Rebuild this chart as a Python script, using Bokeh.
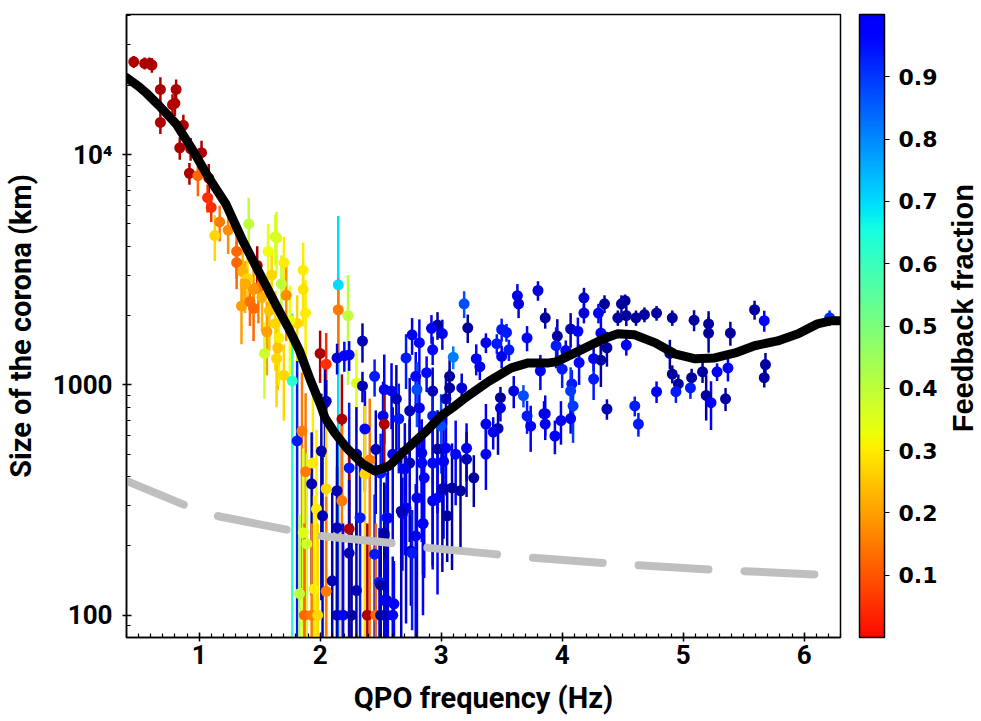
import numpy as np
from bokeh.plotting import figure
from bokeh.layouts import row
from bokeh.models import (ColumnDataSource, LinearColorMapper, ColorBar, FixedTicker,
                          Range1d, PrintfTickFormatter)
from bokeh.core.properties import value
from bokeh.transform import transform
from bokeh.embed import file_html
from bokeh.resources import INLINE

# ---------------- data ----------------
qpo_hz = [
    0.46, 0.55, 0.59, 0.61, 0.68, 0.81, 0.80, 0.78, 0.68, 0.87, 0.84, 0.93,
    1.02, 0.92, 0.99, 1.08, 1.07, 1.10, 1.17, 1.13, 1.41, 1.63,
    1.24, 1.31, 1.31, 1.36, 1.48, 1.40, 1.64, 1.57, 1.49, 1.35, 1.42, 1.45,
    1.60, 1.68, 1.70, 1.72, 1.86, 1.86, 1.88, 1.56, 1.63, 1.81, 1.54, 1.64,
    1.65, 1.70, 1.77, 1.52, 1.58, 1.66, 1.75, 1.45, 1.38,
    2.15, 2.15, 2.23, 2.35, 2.14, 2.20, 2.24, 2.00, 2.05, 2.30, 2.35, 2.45, 2.05,
    2.04, 2.18, 1.85, 1.81, 2.37, 2.30, 2.46, 2.41, 2.24, 2.50, 2.37, 2.01,
    1.94, 1.88, 1.93, 2.05, 2.14, 2.18, 1.97, 2.02, 2.33, 2.55, 2.68, 2.85,
    1.86, 2.24, 2.14, 2.53, 1.89, 2.24, 2.45, 2.75, 2.10, 2.49, 1.95, 2.05,
    1.83, 2.30, 2.55, 2.61, 1.87, 1.93, 1.98, 2.14, 2.19, 2.26, 2.39, 2.46,
    2.50, 2.55, 2.60,
    3.19, 3.22, 2.97, 2.92, 3.01, 2.76, 2.82, 2.93, 2.71, 3.10, 3.29, 3.32,
    3.37, 3.46, 3.50, 3.54, 3.50, 3.56, 3.71, 3.63, 3.64, 3.80, 3.86, 2.88,
    2.79, 3.07, 3.07, 3.17, 2.93, 3.04, 2.80, 2.82, 2.74, 2.93, 3.00, 3.49,
    3.49, 3.60, 3.68, 3.37, 3.47, 3.43, 3.71, 3.74, 3.85, 3.86, 2.52, 2.63,
    2.59, 2.53, 2.65, 2.53, 2.84, 2.97, 3.04, 3.12, 3.21, 3.21, 3.37, 2.60,
    2.74, 2.84, 2.93, 3.02, 2.70, 2.86, 3.27, 3.01, 3.09, 3.16, 2.93, 2.97,
    2.80, 2.71, 2.67, 3.05, 2.85, 2.56, 2.79, 2.53, 2.76, 2.50, 2.53,
    4.18, 4.18, 4.30, 4.35, 4.49, 4.52, 4.46, 4.53, 4.61, 4.68, 4.78, 4.91,
    5.09, 5.21, 5.21, 5.39, 5.59, 5.67, 6.21, 3.96, 4.07, 4.13, 4.32, 4.37,
    3.95, 4.03, 4.53, 4.26, 4.14, 4.32, 3.82, 4.00, 4.26, 4.08, 4.07, 4.09,
    3.86, 3.99, 4.07, 4.37, 4.60, 4.63, 3.94, 4.89, 4.91, 4.96, 5.07, 4.94,
    5.06, 4.78, 5.16, 5.28, 5.37, 5.19, 5.23, 5.35, 5.68, 5.67,
]
corona_km = [
    25300, 24900, 24900, 24500, 19200, 19200, 16700, 16500, 13800, 13400, 10700, 10600,
    10200, 8300, 8100, 7900, 6500, 5900, 5100, 4450, 5000, 4400,
    4700, 3800, 3400, 3100, 3300, 2900, 4350, 3800, 2650, 2200, 2300, 2150,
    3000, 2750, 3400, 2450, 3150, 2600, 2050, 1700, 1850, 1850, 1370, 1300,
    1450, 1100, 1040, 2400, 2100, 1600, 1900, 2600, 2750,
    2720, 2120, 2000, 1550, 1310, 1340, 1350, 1370, 1230, 1020, 990, 1090, 850,
    836, 711, 631, 571, 644, 501, 525, 472, 436, 414, 410, 516,
    458, 420, 372, 354, 347, 314, 289, 270, 265, 265, 276, 250,
    228, 237, 240, 227, 204, 186, 184, 190, 141, 139, 130, 127,
    124, 128, 116, 112, 100, 100, 100, 100, 100, 100, 100, 100,
    100, 100, 100,
    2250, 1770, 1820, 1760, 1670, 1650, 1525, 1420, 1310, 1320, 1300, 1200,
    1525, 1510, 1740, 1690, 1330, 1420, 1600, 2440, 2250, 2570, 1955, 1130,
    1090, 1090, 970, 970, 940, 870, 955, 794, 772, 733, 662, 880,
    794, 942, 898, 676, 647, 624, 733, 662, 750, 676, 733, 869,
    942, 955, 713, 676, 506, 527, 531, 500, 531, 476, 500, 500,
    458, 458, 458, 465, 432, 395, 395, 354, 357, 347, 314, 323,
    323, 292, 283, 270, 250, 264, 221, 221, 186, 135, 116,
    2390, 2050, 2050, 2250, 2250, 2320, 1955, 2000, 1955, 2020, 2050, 1955,
    1910, 1840, 1680, 1680, 2120, 1900, 1955, 1630, 1750, 1710, 1680, 1450,
    1480, 1410, 1490, 1300, 1250, 1280, 1150, 1170, 1060, 1010, 942, 810,
    750, 700, 714, 786, 810, 676, 600, 1370, 1115, 1010, 1075, 935,
    970, 935, 1140, 1140, 1185, 900, 837, 870, 1225, 1075,
]
corona_err_km = [
    1500, 1500, 1500, 1800, 2500, 2000, 2000, 1800, 1500, 1500, 1200, 1200,
    1300, 900, 1500, 1200, 900, 800, 900, 1000, 1500, 1100,
    1000, 900, 800, 800, 700, 700, 1300, 1200, 800, 700, 500, 600,
    900, 900, 1000, 900, 1000, 800, 800, 600, 700, 600, 500, 500,
    500, 400, 1000, 700, 700, 600, 800, 600, 700,
    2700, 800, 1000, 300, 200, 200, 200, 350, 450, 400, 150, 200, 200,
    350, 400, 500, 700, 300, 300, 250, 400, 400, 200, 400, 400,
    500, 500, 250, 400, 250, 350, 350, 250, 250, 150, 120, 100,
    300, 300, 200, 150, 300, 200, 150, 80, 200, 100, 200, 200,
    150, 150, 80, 60, 150, 150, 150, 150, 150, 150, 150, 150,
    100, 100, 80,
    300, 250, 250, 250, 250, 300, 400, 200, 350, 150, 200, 150,
    150, 150, 200, 150, 150, 150, 200, 300, 300, 250, 200, 200,
    300, 200, 200, 150, 250, 200, 300, 300, 300, 250, 250, 100,
    100, 150, 100, 150, 150, 100, 120, 150, 100, 100, 300, 350,
    300, 400, 300, 250, 200, 250, 200, 200, 150, 150, 150, 300,
    250, 250, 300, 250, 250, 250, 100, 200, 200, 150, 150, 200,
    250, 200, 250, 100, 150, 200, 150, 150, 100, 80, 60,
    250, 200, 200, 200, 200, 150, 150, 200, 150, 150, 150, 150,
    200, 250, 300, 200, 200, 200, 150, 300, 300, 250, 350, 250,
    300, 150, 150, 150, 250, 300, 200, 200, 200, 150, 250, 250,
    150, 150, 100, 80, 80, 80, 100, 200, 100, 100, 100, 100,
    100, 100, 120, 100, 150, 200, 200, 100, 150, 100,
]
feedback = [
    0.04, 0.04, 0.04, 0.04, 0.04, 0.04, 0.04, 0.05, 0.04, 0.04, 0.04, 0.04,
    0.04, 0.04, 0.20, 0.04, 0.14, 0.14, 0.22, 0.32, 0.42, 0.39,
    0.24, 0.20, 0.20, 0.28, 0.04, 0.32, 0.39, 0.36, 0.22, 0.26, 0.21, 0.20,
    0.32, 0.42, 0.34, 0.24, 0.34, 0.33, 0.34, 0.26, 0.32, 0.32, 0.40, 0.32,
    0.30, 0.32, 0.60, 0.28, 0.30, 0.34, 0.36, 0.25, 0.27,
    0.66, 0.22, 0.42, 0.95, 0.92, 0.87, 0.88, 0.04, 0.14, 0.38, 0.95, 0.85, 0.95,
    0.95, 0.04, 0.22, 0.85, 0.88, 0.95, 0.95, 0.22, 0.85, 0.85, 0.32, 0.95,
    0.34, 0.22, 0.95, 0.32, 0.95, 0.22, 0.34, 0.95, 0.85, 0.85, 0.88, 0.85,
    0.38, 0.04, 0.95, 0.97, 0.40, 0.95, 0.85, 0.95, 0.95, 0.85, 0.34, 0.22,
    0.42, 0.95, 0.97, 0.88, 0.20, 0.22, 0.32, 0.95, 0.88, 0.97, 0.04, 0.20,
    0.97, 0.95, 0.88,
    0.80, 0.97, 0.97, 0.88, 0.90, 0.90, 0.87, 0.87, 0.85, 0.75, 0.87, 0.90,
    0.90, 0.85, 0.85, 0.85, 0.90, 0.85, 0.87, 0.90, 0.92, 0.92, 0.97, 0.87,
    0.87, 0.97, 0.97, 0.92, 0.95, 0.95, 0.80, 0.90, 0.95, 0.85, 0.80, 0.97,
    0.92, 0.92, 0.80, 0.90, 0.95, 0.90, 0.85, 0.88, 0.90, 0.90, 0.90, 0.95,
    0.90, 0.88, 0.85, 0.04, 0.90, 0.97, 0.88, 0.87, 0.90, 0.95, 0.90, 0.90,
    0.95, 0.88, 0.87, 0.90, 0.90, 0.88, 0.97, 0.95, 0.97, 0.97, 0.90, 0.88,
    0.90, 0.90, 0.95, 0.97, 0.88, 0.90, 0.90, 0.97, 0.85, 0.97, 0.90,
    0.93, 0.92, 0.88, 0.97, 0.97, 0.97, 0.97, 0.97, 0.97, 0.97, 0.97, 0.97,
    0.97, 0.97, 0.97, 0.97, 0.97, 0.88, 0.83, 0.97, 0.95, 0.88, 0.90, 0.97,
    0.85, 0.90, 0.88, 0.90, 0.87, 0.97, 0.88, 0.85, 0.85, 0.85, 0.82, 0.82,
    0.90, 0.90, 0.90, 0.95, 0.85, 0.85, 0.88, 0.97, 0.97, 0.97, 0.97, 0.85,
    0.85, 0.90, 0.97, 0.90, 0.88, 0.97, 0.88, 0.97, 0.97, 0.97,
]

# model curve (black) and lower reference curve (grey, dashed)
model_hz = [0.40, 0.50, 0.56, 0.67, 0.81, 0.95, 1.08, 1.22, 1.36, 1.50, 1.64, 1.74,
            1.83, 1.92, 2.00, 2.04, 2.12, 2.22, 2.35, 2.45, 2.57, 2.66, 2.76, 2.88,
            3.00, 3.10, 3.20, 3.39, 3.58, 3.72, 3.89, 3.95, 4.14, 4.36, 4.46, 4.60,
            4.77, 4.93, 5.10, 5.26, 5.43, 5.59, 5.78, 5.95, 6.11, 6.22, 6.30]
model_km = [21600, 19800, 18600, 16300, 13600, 10400, 7940, 6120, 4230, 3050, 2200, 1760,
            1406, 1048, 826, 720, 620, 532, 454, 423, 444, 495, 553, 631,
            733, 800, 880, 1034, 1186, 1246, 1246, 1259, 1406, 1600, 1667, 1650,
            1523, 1365, 1298, 1310, 1376, 1479, 1553, 1667, 1841, 1897, 1897]
grey_hz = [0.40, 0.90, 1.16, 1.78, 2.03, 2.66, 2.90, 3.54, 3.79, 4.44, 5.30, 6.25]
grey_km = [383, 298, 269, 232, 220, 204, 196, 182, 177, 167, 157, 149]

cbar_ticks = [0.1, 0.2, 0.3, 0.4, 0.5, 0.6, 0.7, 0.8, 0.9]
cbar_title = "Feedback fraction"

# ---------------- jet palettes ----------------
def _seg(t, pts):
    return np.interp(t, [a for a, _ in pts], [b for _, b in pts])

def jet_colors(t):
    r = _seg(t, [(0, 0), (0.35, 0), (0.66, 1), (0.89, 1), (1, 0.5)])
    g = _seg(t, [(0, 0), (0.125, 0), (0.375, 1), (0.64, 1), (0.91, 0), (1, 0)])
    b = _seg(t, [(0, 0.5), (0.11, 1), (0.34, 1), (0.65, 0), (1, 0)])
    return ["#%02x%02x%02x" % (int(round(255 * a)), int(round(255 * c)), int(round(255 * d)))
            for a, c, d in zip(r, g, b)]

point_palette = jet_colors(np.linspace(1.0, 0.0, 256))   # jet reversed
bar_palette = jet_colors(np.linspace(0.9, 0.1, 256))     # colour-bar shading

point_mapper = LinearColorMapper(palette=point_palette, low=0.0, high=1.0)
bar_mapper = LinearColorMapper(palette=bar_palette, low=0.0, high=1.0)

y = np.array(corona_km, dtype=float)
e = np.array(corona_err_km, dtype=float)
src = ColumnDataSource(dict(x=qpo_hz, y=corona_km, lo=np.maximum(y - e, 1.0), hi=y + e, f=feedback))

# ---------------- main figure ----------------
TOTAL_H = 719
p = figure(frame_width=714, frame_height=623, y_axis_type="log", output_backend="svg",
           toolbar_location=None,
           x_range=Range1d(0.4, 6.3), y_range=Range1d(80, 40600),
           min_border_left=118, min_border_top=14, min_border_bottom=82, min_border_right=100)
p.xgrid.visible = False
p.ygrid.visible = False
p.outline_line_color = "black"
p.outline_line_width = 1.5
p.background_fill_color = "white"
p.border_fill_color = "white"

p.segment(x0="x", y0="lo", x1="x", y1="hi", source=src, line_width=2.5,
          line_color=transform("f", point_mapper))
p.scatter(x="x", y="y", source=src, size=11, line_color=None,
          fill_color=transform("f", point_mapper))

p.line(model_hz, model_km, line_color="black", line_width=9, line_join="round", line_cap="round")
p.line(grey_hz, grey_km, line_color="#bfbfbf", line_width=8, line_dash="70 36",
       line_dash_offset=8, line_cap="round")

AX_FONT = "Roboto"
for ax in (p.xaxis[0], p.yaxis[0]):
    ax.axis_line_color = "black"
    ax.axis_line_width = 1.5
    ax.major_tick_line_color = "black"
    ax.major_tick_line_width = 1.5
    ax.minor_tick_line_color = "black"
    ax.minor_tick_line_width = 1.2
    ax.major_tick_in = 5
    ax.major_tick_out = 4
    ax.minor_tick_in = 4
    ax.minor_tick_out = 0
    ax.major_label_text_font = AX_FONT
    ax.major_label_text_font_style = "bold"
    ax.major_label_text_font_size = "26px"
    ax.major_label_text_color = "black"
    ax.axis_label_text_font = AX_FONT
    ax.axis_label_text_font_style = "bold"
    ax.axis_label_text_font_size = "29px"
    ax.axis_label_text_color = "black"

p.xaxis.ticker = FixedTicker(ticks=[1, 2, 3, 4, 5, 6],
                             minor_ticks=[round(0.4 + 0.1 * i, 2) for i in range(60)])
p.xaxis.axis_label = "QPO frequency (Hz)"
p.xaxis.major_label_standoff = 3
p.xaxis.axis_label_standoff = 14

p.yaxis.ticker = FixedTicker(ticks=[100, 1000, 10000],
                             minor_ticks=[m * 10 ** k for k in (1, 2, 3, 4) for m in range(2, 10)])
p.yaxis.major_label_overrides = {100: "100", 1000: "1000", 10000: "10⁴"}
p.yaxis.axis_label = "Size of the corona (km)"
p.yaxis.major_label_standoff = 10
p.yaxis.axis_label_standoff = 12

cb = ColorBar(color_mapper=bar_mapper, ticker=FixedTicker(ticks=cbar_ticks),
              formatter=PrintfTickFormatter(format="%.1f"),
              width=25, padding=0, margin=0, location=(19, 0),
              major_label_text_font="DejaVu Sans", major_label_text_font_style="bold",
              major_label_text_font_size="22px", major_label_text_color="black",
              major_tick_line_color="black", major_tick_in=0, major_tick_out=5,
              minor_tick_line_color=None, label_standoff=9,
              bar_line_color="black", bar_line_width=1.5,
              border_line_color=None, background_fill_color=None)
p.add_layout(cb, "right")

# ---------------- narrow strip carrying the colour-bar title ----------------
TW = 40
t = figure(width=TW, height=TOTAL_H, output_backend="svg", toolbar_location=None,
           x_range=Range1d(0, TW), y_range=Range1d(0, TOTAL_H),
           x_axis_location=None, y_axis_location=None,
           min_border_left=0, min_border_right=0, min_border_top=0, min_border_bottom=0)
t.xgrid.visible = False
t.ygrid.visible = False
t.outline_line_color = None
t.background_fill_color = "white"
t.border_fill_color = "white"
t.text(x=[22], y=[TOTAL_H - 339], text=[cbar_title], angle=np.pi / 2,
       text_align="center", text_baseline="middle",
       text_font=value("Liberation Sans"), text_font_style="bold",
       text_font_size="29px", text_color="black")

layout = row(p, t, spacing=0)
open("out.html", "w").write(file_html(layout, INLINE))
